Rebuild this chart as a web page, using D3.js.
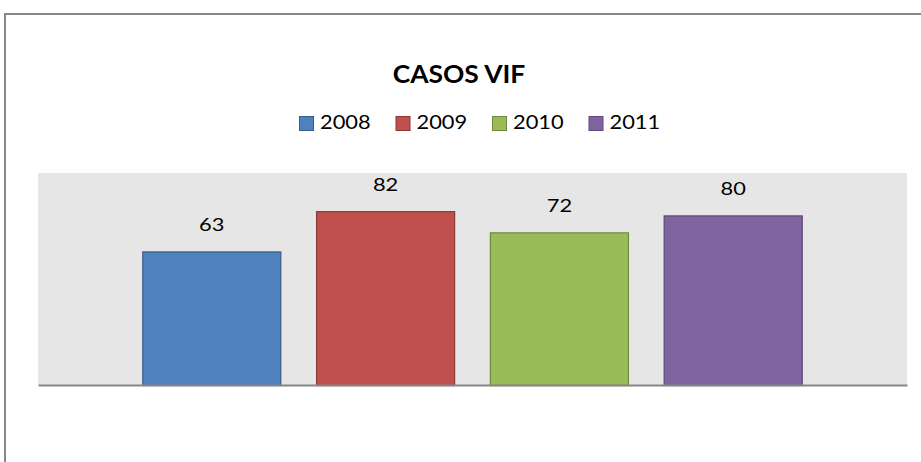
<!DOCTYPE html>
<html>
<head>
<meta charset="utf-8">
<script src="https://cdn.jsdelivr.net/npm/d3@7"></script>
<style>
  html, body { margin: 0; padding: 0; background: #fff; }
  svg { display: block; font-family: Lato, "Open Sans", sans-serif; }
</style>
</head>
<body>
<svg id="chart" width="921" height="462"></svg>
<script>
// Domestic violence (VIF) cases per year
const title = "CASOS VIF";
const years = ["2008", "2009", "2010", "2011"];
const cases = [63, 82, 72, 80];
const fills = ["#4f81bd", "#c0504d", "#9bbb59", "#8064a2"];
const strokes = ["#385d8a", "#8c3836", "#71893f", "#5c4776"];
const yDomain = [0, 100];

const svg = d3.select("#chart");
const W = 921, H = 462;
const plot = { left: 38, right: 907, top: 173, bottom: 385 };

// outer chart frame
svg.append("rect")
  .attr("x", 5).attr("y", 14)
  .attr("width", W + 20).attr("height", H + 20)
  .attr("fill", "#fff").attr("stroke", "#868686").attr("stroke-width", 2);

// plot area background
svg.append("rect")
  .attr("x", plot.left).attr("y", plot.top)
  .attr("width", plot.right - plot.left).attr("height", plot.bottom - plot.top)
  .attr("fill", "#e6e6e6");

const x = d3.scaleBand().domain(years)
  .range([plot.left, plot.right])
  .paddingInner(0.2).paddingOuter(0.6);
const y = d3.scaleLinear().domain(yDomain).range([plot.bottom, plot.top]);

const data = years.map((yr, i) => ({ year: yr, value: cases[i], fill: fills[i], stroke: strokes[i] }));

// bars
svg.append("g").selectAll("rect").data(data).join("rect")
  .attr("x", d => x(d.year) + 0.5)
  .attr("y", d => y(d.value) + 0.5)
  .attr("width", x.bandwidth() - 1)
  .attr("height", d => y(0) - y(d.value))
  .attr("fill", d => d.fill)
  .attr("stroke", d => d.stroke)
  .attr("stroke-width", 1.2);

// category axis line
const xAxis = d3.axisBottom(x).tickSize(0).tickFormat("");
const axisG = svg.append("g").attr("transform", `translate(0,${plot.bottom})`).call(xAxis);
axisG.select(".domain").attr("stroke", "#868686").attr("stroke-width", 2.2);

// helper: horizontally stretched text, anchored at (cx, baseline)
function stretched(parent, txt, cx, by, size, weight, sx, anchor) {
  return parent.append("text")
    .attr("transform", `translate(${cx},${by}) scale(${sx},1)`)
    .attr("text-anchor", anchor || "middle")
    .attr("font-size", size)
    .attr("font-weight", weight)
    .attr("fill", "#000")
    .text(txt);
}

// value labels
data.forEach(d => {
  stretched(svg, String(d.value), x(d.year) + x.bandwidth() / 2, y(d.value) - 20, 17.5, 400, 1.25);
});

// title
stretched(svg, title, 459, 83, 24, 700, 1.1);

// legend
const legendX0 = 299, legendStep = 96.5;
const lg = svg.append("g");
data.forEach((d, i) => {
  const lx = legendX0 + i * legendStep;
  lg.append("rect")
    .attr("x", lx + 0.5).attr("y", 116.5)
    .attr("width", 14).attr("height", 14)
    .attr("fill", d.fill).attr("stroke", d.stroke).attr("stroke-width", 1);
  stretched(lg, d.year, lx + 21, 129, 19.5, 400, 1.12, "start");
});
</script>
</body>
</html>
